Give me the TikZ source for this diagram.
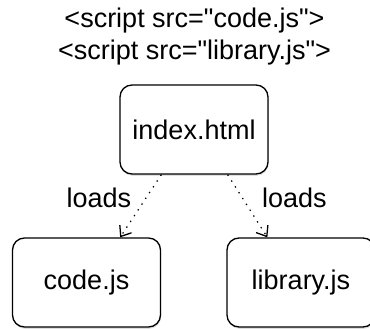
\documentclass[tikz,border=0pt]{standalone}
\usepackage{fontspec}
\setmainfont{Liberation Sans}[Ligatures=TeXOff]
\usetikzlibrary{arrows.meta,shadows}
\begin{document}
\begin{tikzpicture}[
  x=1pt, y=-1pt,
  file/.style={rectangle, draw, line width=1.3pt, rounded corners=12pt, fill=white,
    minimum width=148pt, minimum height=89pt, font=\fontsize{27}{32}\selectfont,
    drop shadow={shadow xshift=0.6pt, shadow yshift=-1.8pt, opacity=0.25}},
  tag/.style={font=\fontsize{27}{32}\selectfont, anchor=base, inner sep=0pt},
  arrow/.style={-{Straight Barb[length=9pt,width=14pt,line width=1.3pt]}, line width=1.2pt,
    dash pattern=on 1.4pt off 5.5pt}
]
  \useasboundingbox (0,0) rectangle (370,329);
  \node[tag] (src1) at (194.5,28) {<script src="code.js">};
  \node[tag] (src2) at (194.5,60) {<script src="library.js">};
  \node[file] (index) at (194,129.5) {index.html};
  \node[file] (code) at (86.5,282.5) {code.js};
  \node[file] (library) at (301,282.5) {library.js};
  \draw[arrow] ([xshift=42pt]index.south west) -- ([xshift=-41pt]code.north east)
    node[midway, left=9pt, yshift=8pt, font=\fontsize{27}{32}\selectfont, inner sep=0pt] {loads};
  \draw[arrow] ([xshift=-41pt]index.south east) -- ([xshift=41pt]library.north west)
    node[midway, right=14pt, yshift=8pt, font=\fontsize{27}{32}\selectfont, inner sep=0pt] {loads};
\end{tikzpicture}
\end{document}
